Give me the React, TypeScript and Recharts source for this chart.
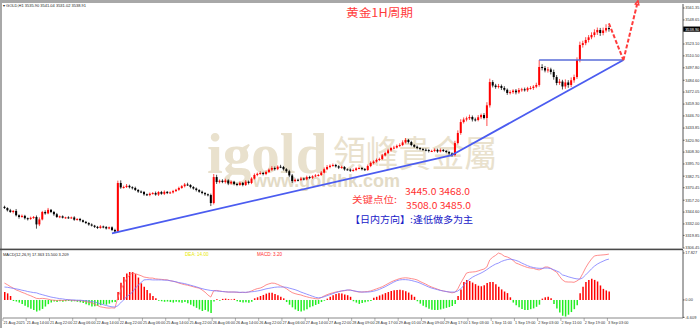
import React from 'react';
import { ComposedChart, Bar, Line, XAxis, YAxis, ReferenceLine, Cell } from 'recharts';

// hourly gold closes, 21 Aug 2025 -> 3 Sep 2025
const firstOpen = 3350.2;
const closes = [
  3348.9, 3346.5, 3344.7, 3345.8, 3341.2, 3339.4, 3340.6, 3338.1, 3337.3, 3338.5,
  3339.4, 3331.5, 3336.8, 3344.7, 3343.2, 3347.0, 3344.7, 3342.3, 3339.4, 3340.1,
  3338.6, 3339.0, 3338.3, 3338.9, 3336.5, 3337.3, 3335.9, 3334.2, 3333.0, 3331.4,
  3330.2, 3328.9, 3327.7, 3329.3, 3328.7, 3327.2, 3328.4, 3325.6, 3324.0, 3375.5,
  3370.8, 3371.2, 3372.5, 3371.0, 3370.2, 3368.1, 3366.4, 3365.9, 3363.5, 3362.7,
  3364.1, 3364.8, 3363.2, 3365.9, 3364.0, 3366.1, 3364.8, 3365.5, 3366.9, 3368.3,
  3370.2, 3372.1, 3373.9, 3373.4, 3371.2, 3369.6, 3368.0, 3366.2, 3364.8, 3363.5,
  3362.7, 3354.2, 3381.8, 3376.5, 3377.9, 3376.5, 3378.2, 3375.0, 3376.8, 3374.5,
  3373.4, 3375.6, 3373.4, 3376.9, 3375.5, 3380.2, 3384.0, 3385.3, 3386.1, 3385.0,
  3387.2, 3389.6, 3391.4, 3390.2, 3392.8, 3392.5, 3390.1, 3388.0, 3383.5, 3377.5,
  3378.9, 3378.7, 3380.2, 3379.4, 3381.8, 3381.0, 3382.6, 3383.5, 3384.0, 3386.5,
  3390.1, 3392.5, 3393.8, 3394.6, 3393.2, 3391.8, 3392.5, 3390.0, 3389.7, 3388.5,
  3389.3, 3391.0, 3391.4, 3390.2, 3389.3, 3393.5, 3396.7, 3398.2, 3400.0, 3401.0,
  3404.8, 3407.3, 3410.2, 3412.6, 3413.1, 3414.9, 3415.8, 3418.6, 3421.2, 3419.0,
  3415.8, 3414.0, 3412.6, 3411.5, 3410.8, 3410.5, 3409.4, 3409.5, 3410.7, 3409.0,
  3410.5, 3409.6, 3408.4, 3406.8, 3405.2, 3417.9, 3428.6, 3440.2, 3442.9, 3444.2,
  3445.6, 3443.0, 3442.4, 3445.3, 3447.7, 3444.5, 3458.0, 3482.7, 3479.0, 3477.4,
  3478.5, 3476.4, 3474.5, 3471.1, 3472.0, 3473.6, 3471.8, 3474.3, 3475.0, 3474.0,
  3476.2, 3476.4, 3477.8, 3479.6, 3498.7, 3497.6, 3495.0, 3496.1, 3493.4, 3488.0,
  3481.7, 3483.2, 3478.0, 3482.3, 3479.6, 3484.6, 3488.0, 3506.1, 3522.1, 3524.0,
  3527.4, 3530.2, 3532.7, 3535.5, 3538.0, 3534.8, 3537.5, 3540.1, 3538.9,
];

// upper / lower shadow lengths (price units)
const wickUp = [
  1.2, 0.8, 1.5, 1.0, 2.1, 0.9, 1.4, 1.1, 0.7, 1.3,
  1.0, 1.6, 2.2, 1.2, 1.8, 2.0, 0.9, 1.1, 1.4, 0.8,
  1.0, 0.6, 1.2, 0.9, 1.3, 0.8, 1.1, 0.7, 1.0, 0.9,
  1.2, 0.8, 1.0, 1.4, 0.9, 1.1, 0.8, 1.0, 1.3, 2.5,
  2.8, 1.5, 1.9, 1.2, 1.0, 1.4, 0.9, 1.2, 1.1, 0.8,
  1.3, 1.0, 1.6, 0.9, 1.2, 1.5, 0.8, 1.1, 1.3, 1.0,
  1.4, 1.2, 1.6, 1.9, 0.8, 1.0, 1.1, 0.9, 1.2, 1.0,
  0.8, 1.5, 3.2, 2.4, 1.3, 1.6, 1.8, 1.2, 1.4, 1.0,
  1.1, 1.5, 0.9, 1.7, 1.2, 1.4, 1.6, 1.3, 1.8, 1.2,
  1.5, 1.3, 1.9, 1.6, 1.4, 2.0, 1.1, 1.2, 1.5, 1.6,
  1.4, 1.2, 1.8, 1.0, 1.5, 1.3, 1.1, 1.4, 1.2, 1.6,
  1.8, 2.0, 1.4, 1.5, 1.2, 1.1, 1.3, 0.9, 1.0, 1.2,
  1.5, 1.1, 1.4, 1.0, 1.2, 1.6, 1.8, 1.3, 1.5, 1.4,
  1.7, 1.5, 1.6, 1.3, 1.9, 1.4, 1.8, 2.2, 2.0, 1.1,
  1.3, 1.0, 1.2, 0.9, 1.1, 1.4, 1.0, 1.3, 1.5, 1.2,
  1.6, 1.1, 0.9, 1.0, 1.2, 2.4, 2.8, 3.0, 2.2, 1.8,
  2.5, 1.6, 1.9, 2.3, 1.5, 2.0, 3.3, 3.6, 2.0, 1.8,
  2.2, 1.6, 1.9, 1.4, 2.0, 1.5, 1.7, 2.1, 1.6, 1.8,
  1.4, 2.0, 1.6, 2.4, 7.4, 3.0, 2.2, 2.6, 1.8, 2.5,
  2.1, 2.8, 1.9, 3.2, 2.4, 3.0, 2.6, 2.8, 3.5, 2.6,
  3.0, 2.4, 2.8, 3.2, 2.6, 2.2, 3.0, 4.0, 2.1,
];
const wickDown = [
  1.0, 1.3, 0.9, 1.5, 1.2, 1.8, 0.8, 1.4, 1.6, 1.0,
  1.2, 4.5, 1.8, 1.0, 1.4, 0.9, 1.2, 1.6, 1.0, 1.3,
  0.8, 1.1, 0.9, 0.7, 1.2, 1.0, 1.4, 0.8, 1.1, 1.3,
  0.9, 1.2, 1.0, 0.8, 1.3, 1.1, 0.9, 1.2, 1.6, 1.0,
  1.5, 1.2, 1.0, 1.3, 1.6, 1.1, 1.4, 1.2, 1.5, 1.0,
  1.3, 0.9, 1.2, 1.5, 1.0, 1.3, 1.1, 0.8, 1.2, 1.0,
  1.1, 0.9, 1.3, 1.0, 1.4, 1.2, 1.5, 1.1, 1.3, 1.6,
  1.4, 3.2, 1.5, 2.0, 1.4, 1.2, 1.6, 1.8, 1.1, 1.5,
  1.3, 1.0, 1.4, 1.1, 1.6, 1.2, 1.0, 1.3, 1.1, 1.4,
  1.2, 1.0, 1.3, 1.5, 1.1, 1.2, 1.4, 1.6, 1.8, 2.0,
  1.3, 1.5, 1.1, 1.2, 1.0, 1.4, 1.2, 0.9, 1.1, 1.0,
  1.2, 1.0, 1.4, 1.1, 1.3, 1.5, 1.2, 1.4, 1.1, 1.3,
  1.0, 1.2, 0.9, 1.3, 1.1, 1.0, 1.2, 1.4, 1.1, 1.3,
  1.0, 1.2, 1.1, 1.4, 1.2, 1.0, 1.3, 1.1, 1.2, 1.5,
  1.3, 1.1, 1.4, 1.2, 1.0, 1.3, 1.5, 1.1, 1.2, 1.4,
  1.0, 1.2, 1.3, 1.5, 1.8, 1.4, 1.6, 1.9, 1.5, 2.0,
  1.8, 2.2, 1.6, 1.4, 2.0, 1.5, 8.5, 2.4, 2.0, 1.8,
  1.5, 2.1, 1.7, 2.0, 1.6, 1.8, 2.2, 1.5, 1.9, 1.4,
  1.7, 1.5, 2.0, 1.6, 1.8, 2.5, 2.0, 2.3, 2.6, 2.8,
  2.4, 2.0, 3.2, 2.5, 3.0, 2.2, 2.6, 2.0, 2.4, 2.8,
  2.2, 2.6, 2.0, 2.4, 2.8, 3.1, 2.5, 2.2, 2.7,
];

// MACD(12,26,9)
const dif = [
  6.4, 5.8, 5.1, 4.5, 3.8, 3.4, 2.9, 2.5, 2.0, 1.6,
  1.1, 0.6, 0.5, 0.6, 0.5, 0.3, 0.0, -0.1, -0.2, -0.1,
  -0.2, -0.1, 0.0, -0.1, -0.2, -0.3, -0.2, -0.4, -0.6, -0.9,
  -1.1, -1.6, -2.1, -2.6, -2.8, -3.0, -3.1, -3.0, -3.1, 0.9,
  3.6, 6.0, 8.0, 9.4, 10.2, 10.0, 9.6, 9.2, 8.7, 8.5,
  8.3, 8.3, 8.0, 7.9, 7.8, 7.7, 7.6, 7.3, 7.1, 6.8,
  6.4, 6.1, 5.8, 5.6, 5.3, 5.0, 4.7, 4.5, 3.8, 3.0,
  1.9, 1.1, 3.5, 3.6, 3.4, 3.2, 3.1, 3.0, 3.0, 3.0,
  2.9, 2.8, 2.9, 2.8, 3.0, 3.4, 3.9, 4.3, 4.5, 5.0,
  5.7, 6.1, 6.4, 6.3, 5.9, 5.4, 4.9, 4.3, 3.5, 2.8,
  2.4, 2.1, 1.9, 1.5, 1.2, 0.9, 0.7, 0.5, 0.4, 0.9,
  1.5, 2.0, 2.4, 2.7, 3.0, 3.2, 3.4, 3.5, 3.7, 3.8,
  3.5, 3.2, 3.0, 3.0, 3.1, 3.2, 3.4, 3.8, 4.2, 4.6,
  5.0, 5.6, 6.2, 6.8, 7.3, 7.7, 8.1, 8.3, 8.4, 8.3,
  8.1, 7.9, 7.6, 7.0, 6.5, 6.0, 5.4, 4.9, 4.5, 4.1,
  3.7, 3.4, 3.2, 3.0, 2.7, 2.9, 4.2, 6.4, 8.3, 10.2,
  10.5, 10.6, 10.7, 11.0, 11.4, 11.7, 12.5, 15.2, 16.2, 16.9,
  17.8, 17.4, 16.6, 16.3, 15.8, 15.0, 14.0, 13.6, 13.1, 12.7,
  12.3, 12.1, 12.0, 11.6, 11.4, 11.8, 12.5, 12.5, 12.0, 11.2,
  10.6, 9.0, 7.6, 6.9, 6.8, 6.8, 6.7, 7.2, 8.0, 10.0,
  12.2, 14.0, 15.5, 16.7, 16.9, 17.0, 17.1, 17.2, 17.4,
];
const dea = [
  4.9, 4.8, 4.6, 4.4, 4.2, 4.0, 3.7, 3.5, 3.2, 3.0,
  2.8, 2.7, 2.3, 2.0, 1.7, 1.4, 1.1, 0.9, 0.7, 0.5,
  0.4, 0.2, 0.1, 0.0, 0.0, -0.1, -0.1, -0.2, -0.3, -0.4,
  -0.6, -0.8, -1.1, -1.5, -1.8, -2.1, -2.4, -2.6, -2.7, -2.2,
  -1.1, 0.0, 1.2, 2.0, 2.9, 4.4, 5.6, 6.6, 7.6, 7.7,
  7.7, 7.6, 7.6, 7.6, 7.6, 7.5, 7.5, 7.3, 7.1, 6.9,
  6.6, 6.4, 6.2, 5.9, 5.6, 5.3, 5.0, 4.6, 4.3, 4.0,
  3.8, 3.6, 3.5, 3.4, 3.3, 3.2, 3.1, 3.0, 3.0, 3.0,
  3.0, 2.9, 2.9, 2.9, 3.0, 3.1, 3.2, 3.4, 3.6, 3.9,
  4.2, 4.4, 4.6, 4.8, 4.9, 4.9, 4.9, 4.8, 4.5, 4.2,
  3.9, 3.5, 3.0, 2.6, 2.2, 1.8, 1.4, 1.0, 0.8, 0.9,
  1.2, 1.6, 2.0, 2.4, 2.8, 3.1, 3.4, 3.6, 3.8, 3.7,
  3.5, 3.3, 3.1, 3.0, 3.0, 3.0, 3.1, 3.3, 3.6, 4.0,
  4.5, 5.0, 5.6, 6.2, 6.8, 7.3, 7.6, 7.7, 7.7, 7.6,
  7.4, 7.1, 6.8, 6.4, 5.9, 5.4, 4.9, 4.5, 4.2, 3.9,
  3.6, 3.4, 3.2, 3.0, 3.0, 3.0, 3.4, 4.2, 5.4, 6.8,
  7.8, 8.6, 9.2, 9.7, 10.2, 10.8, 11.5, 12.3, 13.0, 13.6,
  14.0, 14.6, 15.0, 15.3, 15.5, 15.3, 15.0, 14.6, 14.0, 13.5,
  13.0, 12.6, 12.3, 12.1, 12.0, 12.0, 12.1, 12.1, 11.9, 11.5,
  11.0, 10.5, 9.5, 9.2, 8.8, 8.5, 8.2, 8.0, 7.9, 8.4,
  9.5, 10.6, 11.8, 12.8, 13.6, 14.2, 14.7, 15.2, 15.5,
];
const hist = [
  3.0, 2.5, 1.5, -0.4, -0.6, -1.0, -1.5, -2.2, -2.8, -3.3,
  -3.8, -4.4, -4.0, -3.4, -2.5, -1.6, -1.0, -0.6, -0.8, -0.5,
  -0.7, -0.5, -0.4, -0.6, -0.5, -0.7, -0.9, -1.2, -1.6, -2.0,
  -2.5, -2.4, -2.2, -2.0, -1.6, -1.8, -1.4, -0.9, -0.8, 3.0,
  6.5, 8.7, 10.0, 10.6, 10.6, 9.8, 8.5, 6.3, 5.0, 3.8,
  2.5, 1.5, 0.6, -0.3, -0.5, -0.7, -0.6, -0.8, -1.0, -0.7,
  -0.9, -1.1, -0.8, -1.3, -1.8, -2.4, -3.0, -3.6, -4.2, -3.8,
  -4.4, -5.0, -0.6, 0.3, -0.3, 0.4, 0.5, 0.3, 0.2, 0.4,
  -0.5, -0.8, -1.0, -0.9, -1.1, -0.7, 0.6, 1.0, 1.5, 1.9,
  2.4, 2.7, 2.7, 2.3, 1.8, 1.2, 0.6, -0.8, -1.8, -2.8,
  -3.6, -4.2, -4.4, -4.0, -3.5, -2.8, -2.4, -1.9, -1.5, -0.8,
  -0.3, 0.5, 1.2, 1.8, 2.3, 2.5, 2.4, 2.1, 1.8, 1.2,
  -0.5, -1.0, -1.5, -1.2, -0.9, -0.6, -0.4, 0.8, 1.2, 1.7,
  2.1, 2.6, 3.0, 3.4, 3.7, 3.8, 3.9, 3.7, 3.3, 2.8,
  2.0, 1.2, -0.5, -1.4, -2.2, -2.8, -3.3, -3.7, -3.8, -3.8,
  -3.6, -3.3, -3.0, -2.7, -2.3, -1.5, 1.5, 4.0, 6.8, 7.6,
  7.2, 6.6, 6.0, 5.4, 5.2, 5.6, 6.4, 6.8, 6.8, 6.0,
  5.0, 4.0, 3.2, 2.6, 1.0, -1.0, -2.0, -2.8, -3.4, -3.8,
  -3.8, -3.5, -3.2, -2.6, -1.8, 0.5, 1.0, 1.2, 0.6, -1.5,
  -3.2, -4.8, -6.0, -6.3, -5.6, -4.6, -3.5, -2.0, 2.5, 5.0,
  6.8, 7.6, 8.0, 7.6, 7.0, 5.5, 4.2, 3.6, 3.2,
];

const priceTicks = [
  3561.35, 3548.65, 3523.1, 3510.5, 3497.8, 3484.6, 3472.05, 3459.3, 3446.7, 3433.85,
  3420.9, 3408.3, 3395.7, 3382.75, 3370.45, 3357.2, 3344.6, 3332.0, 3319.85, 3306.45,
];
const macdTicks = [17.827, 0, -6.609];
const macdTickText = ['17.827', '0.00', '-6.609'];

// one label every 8 bars
const timeLabels = [
  '21 Aug 2025', '21 Aug 14:00', '21 Aug 22:00', '22 Aug 06:00', '22 Aug 14:00', '22 Aug 22:00',
  '25 Aug 06:00', '25 Aug 14:00', '25 Aug 22:00', '26 Aug 06:00', '26 Aug 14:00', '26 Aug 22:00',
  '27 Aug 06:00', '27 Aug 14:00', '27 Aug 22:00', '28 Aug 09:00', '28 Aug 17:00', '29 Aug 01:00',
  '29 Aug 09:00', '29 Aug 17:00', '1 Sep 03:00', '1 Sep 11:00', '1 Sep 19:00', '2 Sep 03:00',
  '2 Sep 11:00', '2 Sep 19:00', '3 Sep 03:00',
];

// trend lines drawn on the chart: [bar, price]
const supportLine = [[37, 3322.0], [154, 3405.2], [213, 3506.1]];
const resistance = [[184, 3506.1], [213, 3506.1]];
const projection = [[208, 3545.1], [213, 3506.1], [218, 3569.0]];

const SLOTS = 234;
const W = 700;

const rows = Array.from({ length: SLOTS }, (_, i) => {
  if (i >= closes.length) return { i };
  const o = i === 0 ? firstOpen : closes[i - 1];
  const c = closes[i];
  const h = Math.max(o, c) + wickUp[i];
  const l = Math.min(o, c) - wickDown[i];
  return { i, o, h, l, c, range: [l, h], hist: hist[i], dif: dif[i], dea: dea[i] };
});

const lastClose = closes[closes.length - 1];

const Candle = (props: any) => {
  const { x, y, width, height, payload } = props;
  if (!payload || payload.c == null) return null;
  const { o, h, l, c } = payload;
  const top = Math.min(y, y + height);
  const span = Math.abs(height);
  const py = (v: number) => top + ((h - v) / (h - l)) * span;
  const cx = x + width / 2;
  const color = c >= o ? '#ff0000' : '#000000';
  const yo = py(o);
  const yc = py(c);
  const bt = Math.min(yo, yc);
  const bh = Math.max(1, Math.abs(yo - yc));
  return (
    <g>
      <line x1={cx} x2={cx} y1={top} y2={top + span} stroke={color} strokeWidth={0.7} />
      <rect x={cx - 1} y={bt} width={2} height={bh} fill={color} />
    </g>
  );
};

const ArrowLine = (props: any) => {
  const { x1, y1, x2, y2 } = props;
  const ang = Math.atan2(y2 - y1, x2 - x1);
  const s = 5;
  const a1 = ang + Math.PI - 0.45;
  const a2 = ang + Math.PI + 0.45;
  return (
    <g>
      <line x1={x1} y1={y1} x2={x2} y2={y2} stroke="#ff3c3c" strokeWidth={2} strokeDasharray="4 2" />
      <polyline
        points={`${x2 + s * Math.cos(a1)},${y2 + s * Math.sin(a1)} ${x2},${y2} ${x2 + s * Math.cos(a2)},${y2 + s * Math.sin(a2)}`}
        fill="none"
        stroke="#ff3c3c"
        strokeWidth={1.5}
      />
    </g>
  );
};

const DashedSeg = (props: any) => {
  const { x1, y1, x2, y2 } = props;
  return <line x1={x1} y1={y1} x2={x2} y2={y2} stroke="#ff3c3c" strokeWidth={2} strokeDasharray="4 2" />;
};

const PriceTag = (props: any) => {
  const { x1, x2, y1 } = props;
  const right = Math.max(x1, x2);
  return (
    <g>
      <rect x={right} y={y1 - 2.6} width={17} height={5.2} fill="#000" />
      <text x={right + 2.2} y={y1 + 1.5} fontSize={3.9} fill="#fff" fontFamily="Liberation Sans">
        {lastClose.toFixed(2)}
      </text>
    </g>
  );
};

const TimeTick = (props: any) => {
  const { x, y, payload } = props;
  const idx = payload.value;
  if (idx % 8 !== 0) return null;
  const label = timeLabels[idx / 8];
  if (!label) return null;
  return (
    <g>
      <line x1={x - 1.5} x2={x - 1.5} y1={y} y2={y + 3} stroke="#666" strokeWidth={0.5} />
      <text x={x - 1} y={y + 6.3} fontSize={3.8} fill="#333" fontFamily="Liberation Sans">
        {label}
      </text>
    </g>
  );
};

const axisTick = { fontSize: 3.9, fill: '#333', fontFamily: 'Liberation Sans' };
const tan = '#e9e1cd';

const App: React.FC = () => {
  return (
    <div style={{ position: 'absolute', left: 0, top: 0, width: W, height: 328, background: '#fff', overflow: 'hidden' }}>
      <svg width={W} height={328} style={{ position: 'absolute', left: 0, top: 0 }}>
        <rect x={0} y={0} width={W} height={3} fill="#a8a8a8" />
        <rect x={0} y={0} width={2} height={328} fill="#a8a8a8" />
        <text x={207} y={173} fontFamily="Liberation Serif" fontWeight="bold" fontSize={57} fill={tan}>
          igold
        </text>
        <text x={333} y={167} fontFamily="Noto Sans CJK TC" fontSize={36} fill={tan} textLength={164} lengthAdjust="spacingAndGlyphs">
          領峰貴金屬
        </text>
        <text x={253} y={187} fontFamily="Liberation Sans" fontWeight="bold" fontSize={18} fill="#e3dbc6" textLength={147} lengthAdjust="spacingAndGlyphs">
          www.goldhk.com
        </text>
      </svg>

      <div style={{ position: 'absolute', left: 0, top: 0 }}>
        <ComposedChart width={W} height={249} data={rows} margin={{ top: 4, right: 0, left: 3, bottom: 1 }} barCategoryGap={0}>
          <XAxis dataKey="i" hide />
          <YAxis
            orientation="right"
            width={17}
            domain={[3306.45, 3565.6]}
            ticks={priceTicks}
            interval={0}
            tick={axisTick}
            tickSize={1.5}
            tickMargin={0.8}
            tickFormatter={(v: number) => v.toFixed(2)}
            axisLine={{ stroke: '#555' }}
            tickLine={{ stroke: '#555' }}
          />
          <Bar dataKey="range" shape={<Candle />} isAnimationActive={false} />
          <ReferenceLine
            segment={[{ x: supportLine[0][0], y: supportLine[0][1] }, { x: supportLine[1][0], y: supportLine[1][1] }]}
            stroke="#4b5cf0"
            strokeWidth={1.8}
            ifOverflow="visible"
          />
          <ReferenceLine
            segment={[{ x: supportLine[1][0], y: supportLine[1][1] }, { x: supportLine[2][0], y: supportLine[2][1] }]}
            stroke="#4b5cf0"
            strokeWidth={1.8}
            ifOverflow="visible"
          />
          <ReferenceLine
            segment={[{ x: resistance[0][0], y: resistance[0][1] }, { x: resistance[1][0], y: resistance[1][1] }]}
            stroke="#5a6cd8"
            strokeWidth={1.6}
            ifOverflow="visible"
          />
          <ReferenceLine
            segment={[{ x: projection[0][0], y: projection[0][1] }, { x: projection[1][0], y: projection[1][1] }]}
            shape={<DashedSeg />}
            ifOverflow="visible"
          />
          <ReferenceLine
            segment={[{ x: projection[1][0], y: projection[1][1] }, { x: projection[2][0], y: projection[2][1] }]}
            shape={<ArrowLine />}
            ifOverflow="visible"
          />
          <ReferenceLine y={lastClose} shape={<PriceTag />} ifOverflow="visible" />
        </ComposedChart>
      </div>

      <div style={{ position: 'absolute', left: 0, top: 249 }}>
        <ComposedChart width={W} height={79} data={rows} margin={{ top: 1, right: 0, left: 3, bottom: 0 }} barCategoryGap={0}>
          <XAxis
            dataKey="i"
            interval={0}
            height={10}
            tick={<TimeTick />}
            tickSize={0}
            tickMargin={0}
            tickLine={false}
            axisLine={{ stroke: '#888' }}
          />
          <YAxis
            orientation="right"
            width={17}
            domain={[-6.85, 18.95]}
            ticks={macdTicks}
            interval={0}
            tick={axisTick}
            tickSize={1.5}
            tickMargin={0.8}
            tickFormatter={(v: number) => macdTickText[macdTicks.indexOf(v)] ?? String(v)}
            axisLine={{ stroke: '#555' }}
            tickLine={{ stroke: '#555' }}
          />
          <Bar dataKey="hist" barSize={1.5} isAnimationActive={false}>
            {rows.map((r: any, k) => (
              <Cell key={k} fill={(r.hist ?? 0) >= 0 ? '#ff0000' : '#22ee22'} />
            ))}
          </Bar>
          <Line dataKey="dif" stroke="#ff7070" strokeWidth={0.8} dot={false} isAnimationActive={false} />
          <Line dataKey="dea" stroke="#7a7aff" strokeWidth={0.8} dot={false} isAnimationActive={false} />
        </ComposedChart>
      </div>

      <svg width={W} height={328} style={{ position: 'absolute', left: 0, top: 0, pointerEvents: 'none' }}>
        <rect x={0} y={248.6} width={683} height={1.6} fill="#4a4a4a" />
        <text x={3} y={6.8} fontSize={4} fill="#222" fontFamily="Liberation Sans">
          ▾ GOLD,H1  3535.90 3541.04 3531.02 3538.91
        </text>
        <text x={346} y={16.5} fontSize={11.5} fill="#ff3b3b" fontFamily="Noto Sans CJK SC" textLength={67} lengthAdjust="spacingAndGlyphs">
          黄金1H周期
        </text>
        <text x={405} y={194.5} fontSize={9.5} fill="#ff3030" fontFamily="Noto Sans CJK SC" textLength={65} lengthAdjust="spacingAndGlyphs">
          3445.0 3468.0
        </text>
        <text x={352} y={202.5} fontSize={9} fill="#ff4040" fontFamily="Noto Sans CJK SC" textLength={45} lengthAdjust="spacingAndGlyphs">
          关键点位:
        </text>
        <text x={406} y={208.5} fontSize={9.5} fill="#ff3030" fontFamily="Noto Sans CJK SC" textLength={65} lengthAdjust="spacingAndGlyphs">
          3508.0 3485.0
        </text>
        <text x={350} y={223} fontSize={9.5} fill="#2020c8" fontFamily="Noto Sans CJK SC" textLength={123} lengthAdjust="spacingAndGlyphs">
          【日内方向】:逢低做多为主
        </text>
        <text x={3} y={255.5} fontSize={4} fill="#222" fontFamily="Liberation Sans">
          MACD(12,26,9) 17.363 15.500 3.209
        </text>
        <text x={185} y={255.5} fontSize={4.6} fill="#e8e800" fontFamily="Liberation Sans">
          DEA:    14.00
        </text>
        <text x={257} y={255.5} fontSize={4.6} fill="#ff3030" fontFamily="Liberation Sans">
          MACD:    3.20
        </text>
      </svg>
    </div>
  );
};

export default App;
